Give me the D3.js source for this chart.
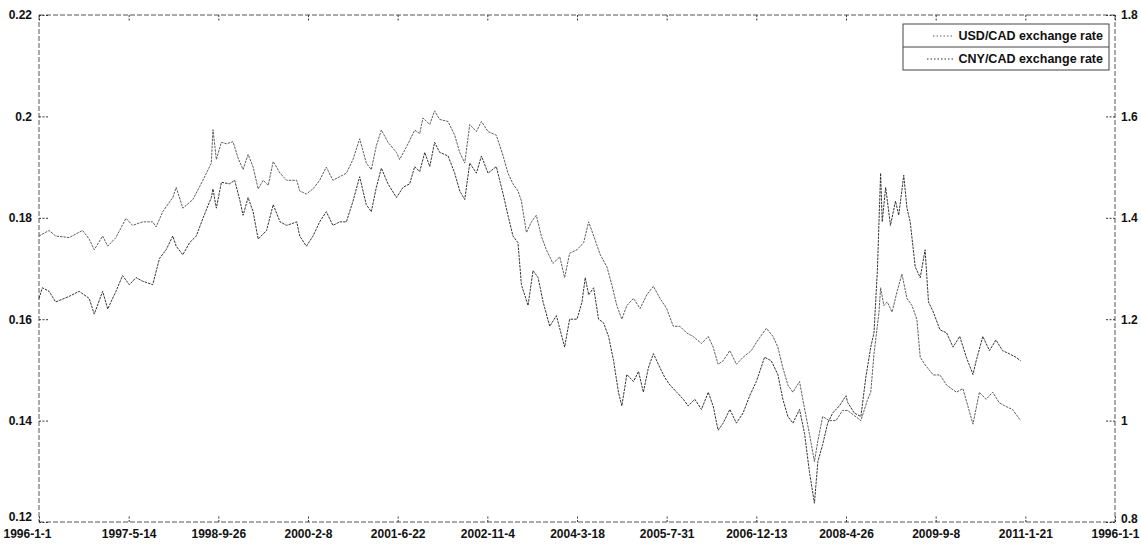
<!DOCTYPE html>
<html>
<head>
<meta charset="utf-8">
<script src="https://cdn.jsdelivr.net/npm/d3@7/dist/d3.min.js"></script>
<style>
  html, body { margin: 0; padding: 0; background: #fff; }
  svg { display: block; }
  text { font-family: "Liberation Sans", Arial, sans-serif; fill: #111; }
</style>
</head>
<body>
<svg id="chart" width="1141" height="547"></svg>
<script>
// ---------------- DATA ----------------
// x values are days elapsed since 1996-1-1
const xTickLabels = ["1996-1-1","1997-5-14","1998-9-26","2000-2-8","2001-6-22","2002-11-4",
  "2004-3-18","2005-7-31","2006-12-13","2008-4-26","2009-9-8","2011-1-21","1996-1-1"];
const leftTicks = [0.12, 0.14, 0.16, 0.18, 0.2, 0.22];
const rightTicks = [0.8, 1, 1.2, 1.4, 1.6, 1.8];
const seriesNames = ["USD/CAD exchange rate", "CNY/CAD exchange rate"];

const usdDays = [0,56,93,168,243,280,308,355,383,429,485,522,578,634,653,690,746,765,802,858,
  914,961,970,989,1017,1045,1082,1110,1138,1166,1194,1222,1250,1278,1306,1344,1381,1437,1454,1491,
  1528,1565,1602,1639,1677,1714,1751,1788,1825,1853,1881,1909,1946,1993,2011,2048,2095,2123,2141,2179,
  2206,2234,2281,2318,2346,2374,2402,2439,2467,2504,2550,2588,2615,2643,2671,2690,2718,2746,2773,2801,
  2829,2866,2904,2931,2959,3000,3037,3065,3093,3130,3167,3194,3222,3250,3278,3315,3352,3389,3426,3463,
  3500,3537,3574,3611,3648,3694,3732,3759,3787,3815,3852,3889,3926,3972,4009,4056,4093,4120,4148,4176,
  4204,4241,4259,4296,4324,4343,4370,4407,4444,4481,4509,4546,4583,4619,4638,4656,4684,4693,4711,4730,
  4757,4785,4812,4840,4868,4895,4914,4941,4987,5024,5061,5116,5152,5208,5244,5281,5318,5355,5391,5428,5474];
const usdCad = [1.364,1.375,1.364,1.361,1.375,1.358,1.337,1.364,1.344,1.361,1.399,1.385,1.392,1.392,1.382,1.412,1.44,1.46,1.419,1.436,
  1.474,1.508,1.574,1.515,1.549,1.546,1.55,1.518,1.495,1.525,1.50,1.457,1.474,1.464,1.511,1.488,1.474,1.474,1.453,1.447,
  1.457,1.474,1.50,1.474,1.481,1.488,1.515,1.556,1.508,1.495,1.542,1.573,1.549,1.529,1.515,1.539,1.573,1.566,1.597,1.584,
  1.611,1.594,1.590,1.563,1.529,1.508,1.584,1.570,1.590,1.570,1.563,1.522,1.488,1.467,1.453,1.433,1.371,1.392,1.405,1.364,
  1.337,1.310,1.323,1.282,1.330,1.337,1.351,1.392,1.364,1.327,1.303,1.268,1.227,1.20,1.227,1.241,1.221,1.248,1.265,1.241,
  1.221,1.186,1.186,1.173,1.166,1.152,1.166,1.145,1.111,1.118,1.138,1.111,1.125,1.138,1.159,1.182,1.166,1.145,1.104,1.070,
  1.056,1.077,1.042,0.974,0.919,0.96,1.008,1.0,1.0,1.02,1.02,1.01,1.0,1.04,1.056,1.131,1.214,1.262,1.227,1.234,
  1.214,1.255,1.289,1.241,1.227,1.2,1.125,1.11,1.09,1.09,1.07,1.056,1.063,0.993,1.056,1.042,1.056,1.035,1.028,1.022,1.0];

const cnyDays = [0,19,56,93,168,224,280,308,355,383,429,466,504,541,578,634,672,709,746,765,
  802,840,877,914,961,970,989,1017,1063,1091,1119,1138,1166,1194,1222,1269,1306,1344,1381,1437,
  1454,1491,1528,1565,1602,1639,1677,1714,1751,1788,1825,1853,1881,1909,1946,1993,2030,2067,2095,2123,
  2151,2179,2206,2234,2281,2318,2346,2374,2402,2439,2467,2504,2550,2588,2615,2643,2671,2690,2727,2755,
  2783,2811,2848,2885,2931,2959,3000,3028,3046,3065,3093,3120,3148,3176,3204,3231,3250,3278,3315,3343,
  3370,3398,3426,3463,3491,3519,3556,3593,3620,3657,3694,3732,3759,3787,3815,3852,3889,3926,3963,4000,
  4046,4083,4120,4148,4176,4204,4241,4269,4296,4324,4343,4370,4398,4426,4463,4500,4509,4546,4583,4610,
  4638,4656,4675,4693,4702,4721,4748,4776,4794,4822,4840,4858,4886,4914,4941,4960,4987,5024,5061,5097,
  5134,5171,5208,5226,5263,5300,5336,5373,5410,5447,5474];
const cnyCad = [0.1641,0.1662,0.1655,0.1634,0.1645,0.1655,0.1641,0.161,0.1655,0.162,0.1655,0.1686,0.1668,0.1682,0.1675,0.1668,0.172,0.1737,0.1764,0.1744,
  0.1727,0.1751,0.1764,0.1799,0.184,0.1857,0.1819,0.187,0.1867,0.1874,0.1836,0.1805,0.184,0.1812,0.1758,0.1775,0.1826,0.1792,0.1785,0.1792,
  0.1764,0.1744,0.1764,0.1792,0.1812,0.1785,0.1792,0.1792,0.1833,0.1881,0.1826,0.1812,0.186,0.1898,0.1867,0.184,0.186,0.1867,0.1901,0.1891,
  0.1929,0.1901,0.1949,0.1929,0.1922,0.1888,0.1853,0.1836,0.1908,0.1888,0.1922,0.1888,0.1901,0.1847,0.1805,0.1764,0.1751,0.1668,0.1627,0.1696,
  0.1682,0.1634,0.1586,0.1607,0.1545,0.16,0.16,0.1634,0.1682,0.1648,0.1662,0.16,0.1593,0.1566,0.1518,0.1456,0.1429,0.1491,0.1477,0.1497,
  0.1456,0.1504,0.1532,0.1504,0.1484,0.147,0.1456,0.1442,0.1429,0.1442,0.1422,0.1456,0.1429,0.1381,0.1395,0.1422,0.1395,0.1415,0.1449,0.1477,
  0.1525,0.1518,0.1491,0.1442,0.1408,0.1395,0.1422,0.1374,0.1299,0.1237,0.1319,0.1353,0.1395,0.1415,0.1429,0.1449,0.1436,0.1415,0.1408,0.1484,
  0.1545,0.1573,0.1696,0.1888,0.1792,0.186,0.1785,0.1833,0.1805,0.1884,0.1819,0.1792,0.1703,0.1682,0.1737,0.1634,0.1614,0.1579,0.1573,0.1545,
  0.1566,0.1525,0.1491,0.1518,0.1566,0.1538,0.1559,0.1538,0.1532,0.1525,0.1518];

// ---------------- LAYOUT ----------------
const W = 1141, H = 547;
const m = { left: 39, right: 1115, top: 15, bottom: 522 };
const svg = d3.select("#chart");

const x = d3.scaleLinear().domain([0, 6000]).range([m.left, m.right]);
const yL = d3.scaleLinear().domain([0.12, 0.22]).range([m.bottom, m.top]);
const yR = d3.scaleLinear().domain([0.8, 1.8]).range([m.bottom, m.top]);
const xTickVals = xTickLabels.map((d, i) => i * 500);

const frameColor = "#555";
const FONT = "'Liberation Sans', Arial, sans-serif";

// frame
const frame = svg.append("g");
[[m.left, m.top, m.right, m.top], [m.left, m.bottom, m.right, m.bottom],
 [m.left, m.top, m.left, m.bottom], [m.right, m.top, m.right, m.bottom]].forEach(s => {
  frame.append("line").attr("x1", s[0]).attr("y1", s[1]).attr("x2", s[2]).attr("y2", s[3])
    .attr("stroke", frameColor).attr("stroke-width", 1).attr("stroke-dasharray", "5,2");
});

function styleAxis(g) {
  g.select(".domain").remove();
  g.selectAll(".tick line").attr("stroke", "#333").attr("stroke-width", 1).attr("stroke-dasharray", "2,1.5");
  g.selectAll(".tick text").attr("font-size", 12).attr("fill", "#111").attr("font-weight", "bold")
    .attr("font-family", FONT);
}

// bottom axis
const gx = svg.append("g").attr("transform", `translate(0,${m.bottom})`)
  .call(d3.axisBottom(x).tickValues(xTickVals).tickFormat((d, i) => xTickLabels[i])
    .tickSizeInner(-7).tickSizeOuter(0).tickPadding(7))
  .call(styleAxis);
const xTexts = gx.selectAll(".tick text");
const nX = xTickLabels.length;
xTexts.filter((d, i) => i === 0).attr("text-anchor", "start").attr("x", 3 - m.left);
xTexts.filter((d, i) => i === nX - 1).attr("text-anchor", "end").attr("x", 1139 - m.right);

// top axis (ticks only)
svg.append("g").attr("transform", `translate(0,${m.top})`)
  .call(d3.axisTop(x).tickValues(xTickVals).tickFormat("")
    .tickSizeInner(-7).tickSizeOuter(0))
  .call(styleAxis);
// left axis
const gl = svg.append("g").attr("transform", `translate(${m.left},0)`)
  .call(d3.axisLeft(yL).tickValues(leftTicks).tickFormat(d => d3.format("")(+d.toFixed(2)))
    .tickSizeInner(-10).tickSizeOuter(0).tickPadding(7))
  .call(styleAxis);
gl.selectAll(".tick text").filter(d => d === leftTicks[0]).attr("y", -5);
// right axis
const gr = svg.append("g").attr("transform", `translate(${m.right},0)`)
  .call(d3.axisRight(yR).tickValues(rightTicks).tickFormat(d => d3.format("")(+d.toFixed(1)))
    .tickSizeInner(-10).tickSizeOuter(0).tickPadding(6))
  .call(styleAxis);
gr.selectAll(".tick text").filter(d => d === rightTicks[0]).attr("y", -3);

// ---------------- LINES ----------------
const usdData = usdDays.map((d, i) => [d, usdCad[i]]);
const cnyData = cnyDays.map((d, i) => [d, cnyCad[i]]);
const lineR = d3.line().x(d => x(d[0])).y(d => yR(d[1]));
const lineL = d3.line().x(d => x(d[0])).y(d => yL(d[1]));

const colors = ["#5e5e5e", "#333333"];
svg.append("path").datum(usdData).attr("d", lineR)
  .attr("fill", "none").attr("stroke", colors[0]).attr("stroke-width", 1)
  .attr("stroke-dasharray", "2.5,1");
svg.append("path").datum(cnyData).attr("d", lineL)
  .attr("fill", "none").attr("stroke", colors[1]).attr("stroke-width", 1)
  .attr("stroke-dasharray", "2.5,1");

// ---------------- LEGEND ----------------
const lg = { x0: 903, x1: 1109, y0: 24, y1: 70 };
const leg = svg.append("g");
leg.append("rect").attr("x", lg.x0).attr("y", lg.y0).attr("width", lg.x1 - lg.x0).attr("height", lg.y1 - lg.y0)
  .attr("fill", "#fff").attr("stroke", "#444").attr("stroke-width", 1);
leg.append("line").attr("x1", lg.x0).attr("x2", lg.x1).attr("y1", 47).attr("y2", 47)
  .attr("stroke", "#444").attr("stroke-width", 1);
const rowsY = [36, 59];
seriesNames.forEach((name, i) => {
  leg.append("line").attr("x1", i === 0 ? 933 : 927).attr("x2", 953).attr("y1", rowsY[i]).attr("y2", rowsY[i])
    .attr("stroke", colors[i]).attr("stroke-width", 1).attr("stroke-dasharray", "1.5,2");
  leg.append("text").attr("x", 1103).attr("y", rowsY[i]).attr("dy", "0.35em")
    .attr("text-anchor", "end").attr("font-size", 12.5).attr("font-weight", "bold")
    .attr("font-family", FONT).text(name);
});
</script>
</body>
</html>
